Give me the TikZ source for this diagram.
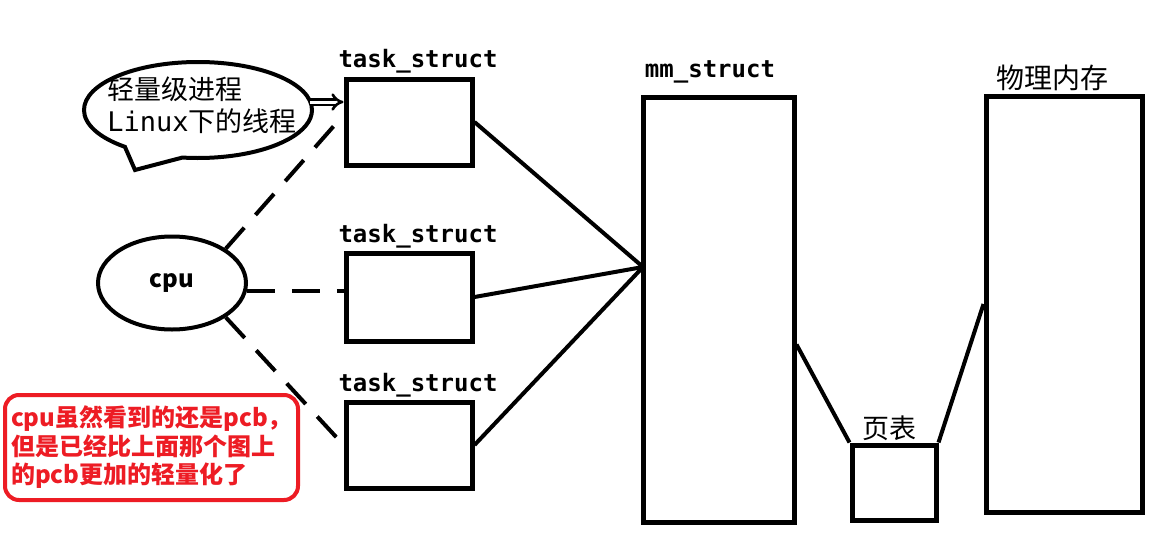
\documentclass[tikz,border=0pt]{standalone}
\usepackage{fontspec}
\setmainfont{Noto Sans CJK SC}
\newfontfamily\latinmono{DejaVu Sans Mono}
\usetikzlibrary{shapes.geometric,shapes.callouts,arrows.meta}
\definecolor{notered}{RGB}{237,28,36}

\begin{document}
\begin{tikzpicture}[
  x=1pt, y=-1pt,
  box/.style={draw,line width=5pt,inner sep=0pt},
  tbox/.style={box,minimum width=126pt,minimum height=86pt},
  lbl/.style={font=\latinmono\bfseries\fontsize{24}{24}\selectfont,inner sep=0pt},
  cjklbl/.style={font=\fontsize{28}{28}\selectfont,inner sep=0pt},
  link/.style={line width=4pt},
  dlink/.style={line width=4pt,dash pattern=on 28pt off 17pt},
  dbl/.style={line width=2.6pt,double distance=3pt,
    -{Implies[length=5pt]}},
  bubble/.style={ellipse callout,draw,line width=4pt,
    minimum width=228pt,minimum height=96pt,inner sep=0pt,
    callout pointer arc=32},
  note/.style={draw=notered,line width=4pt,rounded corners=14pt,
    minimum width=293pt,minimum height=105pt,align=left,
    text=notered,font=\bfseries\fontsize{24}{28.5}\selectfont}]
\useasboundingbox[fill=white] (0,0) rectangle (1156,533);

% task_struct boxes
\node[tbox] (task1) at (409,122) {};
\node[tbox,minimum height=88pt] (task2) at (409,297) {};
\node[tbox] (task3) at (409,445) {};
\node[lbl] at (418,61) {task\_struct};
\node[lbl] at (418,236) {task\_struct};
\node[lbl] at (418,385) {task\_struct};

% memory side
\node[box,minimum width=151pt,minimum height=425pt] (mm) at (718.5,309.5) {};
\node[lbl] at (710,72) {mm\_struct};
\node[box,minimum width=84pt,minimum height=75pt] (page) at (894,482.5) {};
\node[cjklbl,font=\fontsize{27}{27}\selectfont] at (889,428) {页表};
\node[box,minimum width=156pt,minimum height=416pt] (phys) at (1064,304) {};
\node[cjklbl] at (1052,78) {物理内存};

% cpu and notes
\node[draw,ellipse,line width=4pt,minimum width=148pt,minimum height=93pt,
  font=\bfseries\fontsize{24}{24}\selectfont] (cpu) at (172,283) {cpu};
\node[bubble,callout absolute pointer={(135,170)}] (bubble) at (198,110) {};
\node[align=left,inner sep=0pt,font=\fontsize{27}{32}\selectfont]
  (bubbletext) at (202,105) {轻量级进程\\{\latinmono Linux}下的线程};
\node[note] (note) at (151.5,447.5)
  {cpu虽然看到的还是pcb，\\但是已经比上面那个图上\\的pcb更加的轻量化了};

% connectors
\coordinate (hub) at (643,267);
\draw[link] (task1.east) -- (hub);
\draw[link] (task2.east) -- (hub);
\draw[link] (task3.east) -- (hub);
\draw[link] ([yshift=-35pt]mm.east) -- (page.north west);
\draw[link] (page.north east) -- (phys.west);
\draw[dlink] (cpu.north east) -- ([yshift=7pt]task1.west);
\draw[dlink] (cpu.-6) -- (cpu.-6 -| task2.west);
\draw[dlink] (cpu.south east) -- (task3.west);
\draw[dbl] ([yshift=8pt,xshift=-4pt]bubble.east) -- ([yshift=8pt]bubble.east -| task1.west);
\end{tikzpicture}
\end{document}
